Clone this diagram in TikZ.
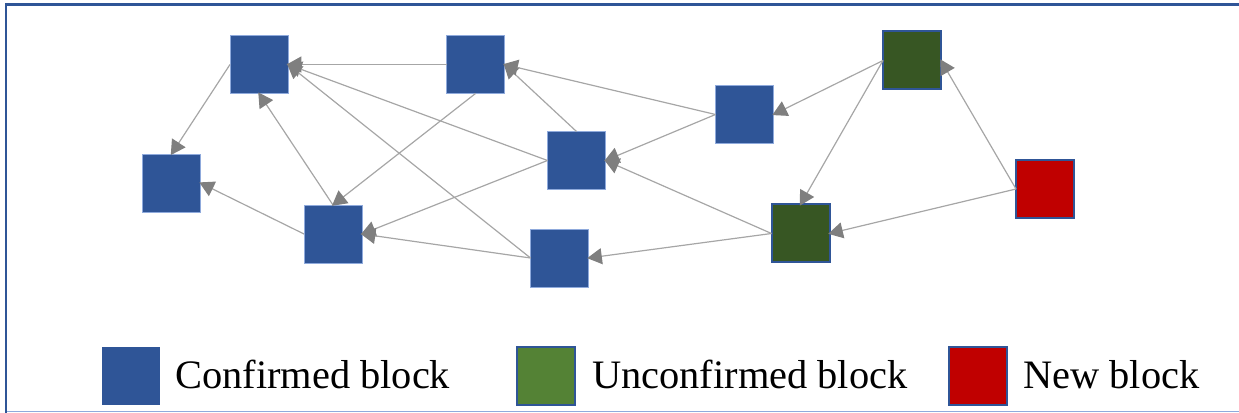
\documentclass[tikz,border=0pt]{standalone}
\usepackage{fontspec}
\setmainfont{Liberation Serif}
\usetikzlibrary{arrows.meta}
\definecolor{cblue}{HTML}{2F5597}
\definecolor{cedge}{HTML}{8FAADC}
\definecolor{cdkgreen}{HTML}{375623}
\definecolor{cgreen}{HTML}{548235}
\definecolor{cred}{HTML}{C00000}
\definecolor{cline}{HTML}{A6A6A6}
\definecolor{ctip}{HTML}{7F7F7F}
\tikzset{
  blk/.style={minimum width=43.5pt, minimum height=43.5pt, inner sep=0pt, outer sep=0pt},
  confirmed/.style={blk, fill=cblue, draw=cedge, line width=0.6pt},
  unconfirmed/.style={blk, fill=cdkgreen, draw=cblue, line width=1.5pt},
  newblk/.style={blk, fill=cred, draw=cblue, line width=1.5pt},
  legtext/.style={anchor=base west, inner sep=0pt, font=\fontsize{30.3pt}{35pt}\selectfont},
  link/.style={draw=cline, line width=0.9pt, -{Triangle[length=11pt, width=12pt, fill=ctip, color=ctip]}, shorten >=-1pt},
}
\begin{document}
\begin{tikzpicture}[x=0.75pt, y=-0.75pt]
\useasboundingbox (0,0) rectangle (1239,413);
% frame
\draw[cedge, line width=0.8pt] (5,411.5) -- (1239,411.5);
\draw[cblue, line width=2pt] (6,413) -- (6,4.3) -- (1239,4.3);
% blocks
\node[confirmed] (A) at (259,64.5) {};
\node[confirmed] (B) at (475.5,64.5) {};
\node[confirmed] (C) at (171.5,183) {};
\node[confirmed] (D) at (333,234) {};
\node[confirmed] (E) at (576.5,160.5) {};
\node[confirmed] (F) at (559.5,258) {};
\node[confirmed] (G) at (744.5,114.5) {};
\node[unconfirmed] (H) at (912,60.5) {};
\node[unconfirmed] (I) at (800.5,233.5) {};
\node[newblk] (J) at (1045,189) {};
% links
\draw[link] (B.west) -- (A.east);
\draw[link] (E.west) -- (A.east);
\draw[link] (F.west) -- (A.east);
\draw[link] (D.north) -- (A.south);
\draw[link] (A.west) -- (C.north);
\draw[link] (D.west) -- (C.east);
\draw[link] (B.south) -- (D.north);
\draw[link] (E.west) -- (D.east);
\draw[link] (F.west) -- (D.east);
\draw[link] (E.north) -- (B.east);
\draw[link] (G.west) -- (B.east);
\draw[link] (G.west) -- (E.east);
\draw[link] (I.west) -- (E.east);
\draw[link] (I.west) -- (F.east);
\draw[link] (H.west) -- (G.east);
\draw[link] (H.west) -- (I.north);
\draw[link] (J.west) -- (H.east);
\draw[link] (J.west) -- (I.east);
% legend
\node[blk, fill=cblue] (L1) at (130.5,376) {};
\node[legtext] (T1) at (175,388) {Confirmed block};
\node[blk, fill=cgreen, draw=cblue, line width=1.5pt] (L2) at (546,376) {};
\node[legtext] (T2) at (592,388) {Unconfirmed block};
\node[newblk] (L3) at (978,376) {};
\node[legtext] (T3) at (1023,388) {New block};
\end{tikzpicture}
\end{document}
